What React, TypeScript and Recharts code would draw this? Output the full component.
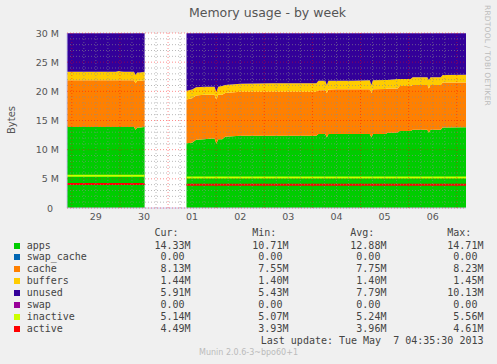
import React from 'react';
import { ComposedChart, Area, Line, XAxis, YAxis, CartesianGrid } from 'recharts';

// hours since Mon Apr 29 00:00; the null row marks the hole in the data
const hours = [
    -2.4, 4, 10, 16, 22, 23.5, 24.5, 26, 31, 31.8, 32.6, 34, 36.3,
    46.5,
    57.2, 60, 62, 66, 70, 71.2, 72.1, 73, 75, 76.5, 84, 100, 122, 123, 126.4, 127.2, 128, 132, 140,
    148.6, 149.4, 150.2, 156.5, 157.5, 162.5, 163.5, 169, 170, 177.3, 178.1, 178.9, 184, 185, 196.6,
];
// values in MB
const apps = [
    13.9, 13.9, 13.9, 13.9, 13.9, 13.9, 13.9, 13.9, 13.9, 13.4, 13.8, 13.8, 13.9,
    null,
    11.1, 11.2, 11.7, 11.8, 11.9, 11.9, 11.0, 11.8, 11.8, 12.2, 12.4, 12.4, 12.4, 12.7, 12.7, 12.1, 12.7, 12.7, 12.7,
    12.7, 12.1, 12.7, 12.7, 12.9, 12.9, 13.2, 13.2, 13.4, 13.4, 12.9, 13.4, 13.4, 13.8, 13.85,
];
const swapCache = [
    0, 0, 0, 0, 0, 0, 0, 0, 0, 0, 0, 0, 0,
    null,
    0, 0, 0, 0, 0, 0, 0, 0, 0, 0, 0, 0, 0, 0, 0, 0, 0, 0, 0,
    0, 0, 0, 0, 0, 0, 0, 0, 0, 0, 0, 0, 0, 0, 0,
];
const cache = [
    8.0, 8.0, 8.0, 8.0, 8.0, 8.0, 8.0, 8.0, 8.0, 8.0, 8.0, 8.0, 8.0,
    null,
    7.5, 7.6, 7.6, 7.6, 7.5, 7.5, 7.5, 7.6, 7.6, 7.5, 7.55, 7.55, 7.55, 7.5, 7.5, 7.6, 7.6, 7.65, 7.65,
    7.65, 7.6, 7.65, 7.7, 7.6, 7.6, 7.7, 7.7, 7.7, 7.7, 7.6, 7.7, 7.7, 7.7, 7.65,
];
const buffers = [
    1.45, 1.45, 1.45, 1.45, 1.45, 1.6, 1.5, 1.45, 1.45, 1.4, 1.45, 1.45, 1.45,
    null,
    1.5, 1.5, 1.4, 1.4, 1.4, 1.4, 1.4, 1.4, 1.5, 1.4, 1.35, 1.45, 1.45, 1.6, 1.6, 1.4, 1.5, 1.45, 1.45,
    1.55, 1.4, 1.55, 1.55, 1.45, 1.6, 1.2, 1.2, 1.3, 1.3, 1.45, 1.3, 1.3, 1.3, 1.35,
];
const unused = [
    6.6, 6.6, 6.6, 6.6, 6.6, 6.45, 6.55, 6.6, 6.6, 7.15, 6.7, 6.7, 6.6,
    null,
    9.85, 9.65, 9.25, 9.15, 9.15, 9.15, 10.05, 9.15, 9.05, 8.85, 8.65, 8.55, 8.55, 8.15, 8.15, 8.85, 8.15, 8.15, 8.15,
    8.05, 8.85, 8.05, 8.0, 8.0, 7.85, 7.85, 7.85, 7.55, 7.55, 8.0, 7.55, 7.55, 7.15, 7.1,
];
const swap = [
    0, 0, 0, 0, 0, 0, 0, 0, 0, 0, 0, 0, 0,
    null,
    0, 0, 0, 0, 0, 0, 0, 0, 0, 0, 0, 0, 0, 0, 0, 0, 0, 0, 0,
    0, 0, 0, 0, 0, 0, 0, 0, 0, 0, 0, 0, 0, 0, 0,
];
const inactive = [
    5.55, 5.55, 5.55, 5.55, 5.55, 5.55, 5.55, 5.55, 5.55, 5.55, 5.55, 5.55, 5.55,
    null,
    5.25, 5.25, 5.25, 5.25, 5.25, 5.25, 5.25, 5.25, 5.25, 5.25, 5.25, 5.25, 5.25, 5.25, 5.25, 5.25, 5.25, 5.25, 5.25,
    5.25, 5.25, 5.25, 5.25, 5.25, 5.25, 5.25, 5.25, 5.25, 5.25, 5.25, 5.25, 5.25, 5.25, 5.25,
];
const active = [
    4.12, 4.12, 4.12, 4.12, 4.12, 4.12, 4.12, 4.12, 4.12, 4.12, 4.12, 4.12, 4.12,
    null,
    4.0, 4.0, 4.0, 4.0, 4.0, 4.0, 4.0, 4.0, 4.0, 4.0, 4.0, 4.0, 4.0, 4.0, 4.0, 4.0, 4.0, 4.0, 4.0,
    4.0, 4.0, 4.0, 4.0, 4.0, 4.0, 4.0, 4.0, 4.0, 4.0, 4.0, 4.0, 4.0, 4.0, 4.0,
];

// day labels sit at noon of each day
const dayTicks = [12, 36, 60, 84, 108, 132, 156, 180];
const dayLabels = ['29', '30', '01', '02', '03', '04', '05', '06'];
const yLabelTicks = [0, 5, 10, 15, 20, 25, 30];

const legendRows = [
    { name: 'apps', color: '#00CC00', cur: '14.33M', min: '10.71M', avg: '12.88M', max: '14.71M' },
    { name: 'swap_cache', color: '#0066B3', cur: ' 0.00 ', min: ' 0.00 ', avg: ' 0.00 ', max: ' 0.00 ' },
    { name: 'cache', color: '#FF8000', cur: ' 8.13M', min: ' 7.55M', avg: ' 7.75M', max: ' 8.23M' },
    { name: 'buffers', color: '#FFCC00', cur: ' 1.44M', min: ' 1.40M', avg: ' 1.40M', max: ' 1.45M' },
    { name: 'unused', color: '#330099', cur: ' 5.91M', min: ' 5.43M', avg: ' 7.79M', max: '10.13M' },
    { name: 'swap', color: '#990099', cur: ' 0.00 ', min: ' 0.00 ', avg: ' 0.00 ', max: ' 0.00 ' },
    { name: 'inactive', color: '#CCFF00', cur: ' 5.14M', min: ' 5.07M', avg: ' 5.24M', max: ' 5.56M' },
    { name: 'active', color: '#FF0000', cur: ' 4.49M', min: ' 3.93M', avg: ' 3.96M', max: ' 4.61M' },
];

const X_DOMAIN: [number, number] = [-2.4, 196.6];
// grid: every 6h / 1M, red every day / 5M
const gridHours = Array.from({ length: 33 }, (_, i) => i * 6);
const gridMB = Array.from({ length: 31 }, (_, i) => i);

const data = hours.map((h, i) => ({
    h,
    apps: apps[i],
    swap_cache: swapCache[i],
    cache: cache[i],
    buffers: buffers[i],
    unused: unused[i],
    swap: swap[i],
    inactive: inactive[i],
    active: active[i],
}));

const W = 497;
const CH = 230;
const MARGIN = { top: 33, right: 31, bottom: 0, left: 0 };
const PLOT_W = W - MARGIN.left - MARGIN.right - 67;
const PLOT_H = CH - MARGIN.top - MARGIN.bottom - 22;
const axisText = '#555555';
const mono = '"DejaVu Sans Mono", monospace';
const cols = [154.5, 252.3, 350.3, 447.3];
const minorLine = { stroke: '#8c8c8c', strokeOpacity: 0.6, strokeDasharray: '1 2' };
const majorLine = { stroke: '#ff0000', strokeOpacity: 0.45, strokeDasharray: '1 2' };

// rrdtool draws the grid over the data, so each axis tick draws its grid line too
const XTick = (props: any) => {
    const { x, y, payload } = props;
    const t = payload.value;
    const i = dayTicks.indexOf(t);
    return (
        <g>
            <line x1={x} x2={x} y1={y} y2={y - PLOT_H} {...(t % 24 === 0 ? majorLine : minorLine)} />
            {i >= 0 && (
                <text x={x} y={y + 11.5} textAnchor="middle" fill={axisText} fontSize={9.5}>{dayLabels[i]}</text>
            )}
        </g>
    );
};

const YTick = (props: any) => {
    const { x, y, payload } = props;
    const v = payload.value;
    const labelled = yLabelTicks.includes(v);
    return (
        <g>
            <line x1={x} x2={x + PLOT_W} y1={y} y2={y} {...(labelled ? majorLine : minorLine)} />
            {labelled && (
                <text x={v === 0 ? x - 14 : x - 8} y={y} dy={3.5} textAnchor="end" fill={axisText} fontSize={9.5}>
                    {v === 0 ? '0' : `${v} M`}
                </text>
            )}
        </g>
    );
};

export default function App() {
    return (
        <div style={{
            position: 'absolute', left: 0, top: 0, width: W, height: 364,
            background: '#F0F0F0', fontFamily: '"DejaVu Sans", sans-serif', overflow: 'hidden',
        }}>
            <div style={{
                position: 'absolute', left: 0, width: 535, top: 5, textAlign: 'center',
                fontSize: 12.5, color: '#555',
            }}>
                Memory usage - by week
            </div>
            <div style={{
                position: 'absolute', left: 11, top: 120, transform: 'translate(-50%, -50%) rotate(-90deg)',
                fontSize: 10, color: axisText,
            }}>
                Bytes
            </div>
            <div style={{
                position: 'absolute', left: 483, top: 5, writingMode: 'vertical-rl',
                fontSize: 7.5, color: '#bbbbbb', letterSpacing: 0.2,
            }}>
                RRDTOOL / TOBI OETIKER
            </div>

            <div style={{ position: 'absolute', left: 0, top: 0 }}>
                <ComposedChart width={W} height={CH} data={data} margin={MARGIN}>
                    <CartesianGrid fill="#ffffff" fillOpacity={1} stroke="none" />
                    <Area type="linear" dataKey="apps" stackId="m" fill="#00CC00" fillOpacity={1} stroke="none" isAnimationActive={false} />
                    <Area type="linear" dataKey="swap_cache" stackId="m" fill="#0066B3" fillOpacity={1} stroke="none" isAnimationActive={false} />
                    <Area type="linear" dataKey="cache" stackId="m" fill="#FF8000" fillOpacity={1} stroke="none" isAnimationActive={false} />
                    <Area type="linear" dataKey="buffers" stackId="m" fill="#FFCC00" fillOpacity={1} stroke="none" isAnimationActive={false} />
                    <Area type="linear" dataKey="unused" stackId="m" fill="#330099" fillOpacity={1} stroke="none" isAnimationActive={false} />
                    <Area type="linear" dataKey="swap" stackId="m" fill="#990099" fillOpacity={1} stroke="none" isAnimationActive={false} />
                    <Line type="linear" dataKey="inactive" stroke="#CCFF00" strokeWidth={2} dot={false} isAnimationActive={false} />
                    <Line type="linear" dataKey="active" stroke="#FF0000" strokeWidth={2} dot={false} isAnimationActive={false} />
                    <XAxis
                        type="number"
                        dataKey="h"
                        domain={X_DOMAIN}
                        ticks={gridHours}
                        interval={0}
                        allowDataOverflow
                        tickSize={0}
                        tickMargin={0}
                        tickLine={false}
                        height={22}
                        axisLine={{ stroke: '#C8C8F0' }}
                        tick={<XTick />}
                    />
                    <YAxis
                        type="number"
                        domain={[0, 30]}
                        ticks={gridMB}
                        interval={0}
                        width={67}
                        allowDataOverflow
                        tickSize={0}
                        tickMargin={0}
                        tickLine={false}
                        axisLine={{ stroke: '#C8C8F0' }}
                        tick={<YTick />}
                    />
                </ComposedChart>
            </div>

            <div style={{
                position: 'absolute', left: 0, top: 0, width: W, height: 364,
                fontFamily: mono, fontSize: 10, color: '#444', whiteSpace: 'pre',
            }}>
                {['Cur:', 'Min:', 'Avg:', 'Max:'].map((t, i) => (
                    <span key={t} style={{ position: 'absolute', left: cols[i], top: 227, lineHeight: '12px' }}>{t}</span>
                ))}
                {legendRows.map((r, k) => {
                    const top = 239.5 + k * 11.95;
                    return (
                        <React.Fragment key={r.name}>
                            <span style={{ position: 'absolute', left: 14, top: top + 3, width: 6, height: 6, background: r.color }} />
                            <span style={{ position: 'absolute', left: 26.7, top, lineHeight: '12px' }}>{r.name}</span>
                            {[r.cur, r.min, r.avg, r.max].map((v, i) => (
                                <span key={i} style={{ position: 'absolute', left: cols[i], top, lineHeight: '12px' }}>{v}</span>
                            ))}
                        </React.Fragment>
                    );
                })}
                <span style={{ position: 'absolute', right: W - 483.5, top: 239.5 + 8 * 11.95, lineHeight: '12px' }}>
                    Last update: Tue May  7 04:35:30 2013
                </span>
            </div>

            <div style={{
                position: 'absolute', left: 0, width: W, top: 348, textAlign: 'center',
                fontSize: 8, color: '#bbbbbb',
            }}>
                Munin 2.0.6-3~bpo60+1
            </div>
        </div>
    );
}
